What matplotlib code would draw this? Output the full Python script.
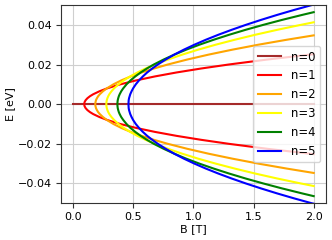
import matplotlib
matplotlib.use("Agg")
import matplotlib.pyplot as plt

# Upper-branch points (B [T], E [eV]); lower branch is the mirror image
n0_B = [0.0, 2.0]
n0_E = [0.0, 0.0]

n1_B = [0.092, 0.095, 0.104, 0.119, 0.140, 0.167, 0.219, 0.284, 0.392, 0.525, 0.681,
        0.861, 1.066, 1.294, 1.613, 1.970, 2.0]
n1_E = [0.0, 0.001, 0.002, 0.003, 0.004, 0.005, 0.0065, 0.008, 0.01, 0.012, 0.014,
        0.016, 0.018, 0.02, 0.0225, 0.025, 0.0252]

n2_B = [0.184, 0.186, 0.190, 0.198, 0.208, 0.222, 0.248, 0.281, 0.335, 0.401, 0.480,
        0.570, 0.673, 0.787, 0.948, 1.127, 1.325, 1.541, 1.777, 2.0]
n2_E = [0.0, 0.001, 0.002, 0.003, 0.004, 0.005, 0.0065, 0.008, 0.01, 0.012, 0.014,
        0.016, 0.018, 0.02, 0.0225, 0.025, 0.0275, 0.03, 0.0325, 0.0347]

n3_B = [0.276, 0.277, 0.280, 0.285, 0.292, 0.301, 0.319, 0.341, 0.377, 0.422, 0.474,
        0.535, 0.603, 0.680, 0.788, 0.908, 1.040, 1.186, 1.344, 1.514, 1.697, 1.893, 2.0]
n3_E = [0.0, 0.001, 0.002, 0.003, 0.004, 0.005, 0.0065, 0.008, 0.01, 0.012, 0.014,
        0.016, 0.018, 0.02, 0.0225, 0.025, 0.0275, 0.03, 0.0325, 0.035, 0.0375, 0.04, 0.0413]

n4_B = [0.368, 0.369, 0.371, 0.375, 0.380, 0.387, 0.400, 0.417, 0.444, 0.477, 0.517,
        0.562, 0.614, 0.671, 0.752, 0.842, 0.941, 1.050, 1.169, 1.297, 1.434, 1.581,
        1.737, 1.903, 2.0]
n4_E = [0.0, 0.001, 0.002, 0.003, 0.004, 0.005, 0.0065, 0.008, 0.01, 0.012, 0.014,
        0.016, 0.018, 0.02, 0.0225, 0.025, 0.0275, 0.03, 0.0325, 0.035, 0.0375, 0.04,
        0.0425, 0.045, 0.0464]

n5_B = [0.460, 0.461, 0.462, 0.465, 0.470, 0.475, 0.486, 0.499, 0.521, 0.548, 0.580,
        0.616, 0.658, 0.704, 0.769, 0.841, 0.921, 1.009, 1.104, 1.207, 1.318, 1.436,
        1.562, 1.695, 1.836, 1.985, 2.0]
n5_E = [0.0, 0.001, 0.002, 0.003, 0.004, 0.005, 0.0065, 0.008, 0.01, 0.012, 0.014,
        0.016, 0.018, 0.02, 0.0225, 0.025, 0.0275, 0.03, 0.0325, 0.035, 0.0375, 0.04,
        0.0425, 0.045, 0.0475, 0.05, 0.0502]

labels = ["n=0", "n=1", "n=2", "n=3", "n=4", "n=5"]
colors = ["brown", "red", "orange", "yellow", "green", "blue"]

fs = 8
plt.rcParams["font.family"] = ["DejaVu Sans"]
fig = plt.figure(figsize=(3.32, 2.40), dpi=100)
ax = fig.add_axes([0.184, 0.153, 0.797, 0.826])

ax.plot(n0_B, n0_E, color=colors[0], lw=1.5, label=labels[0])
series = [(n1_B, n1_E), (n2_B, n2_E), (n3_B, n3_E), (n4_B, n4_E), (n5_B, n5_E)]
for (bs, es), lab, col in zip(series, labels[1:], colors[1:]):
    B_full = bs[::-1] + bs[1:]
    E_full = [-e for e in es[::-1]] + es[1:]
    ax.plot(B_full, E_full, color=col, lw=1.5, label=lab)

ax.set_xlim(-0.1, 2.1)
ax.set_ylim(-0.05, 0.05)
ax.set_xticks([0.0, 0.5, 1.0, 1.5, 2.0])
ax.set_yticks([-0.04, -0.02, 0.0, 0.02, 0.04])
ax.grid(True, color="#cfcfcf", lw=0.8)
for s in ax.spines.values():
    s.set_color("#333333")
ax.tick_params(labelsize=fs, length=3.5, width=0.8, color="#333333", pad=3)
ax.set_xlabel("B [T]", fontsize=fs, labelpad=1.5)
ax.set_ylabel("E [eV]", fontsize=fs, labelpad=2)
ax.legend(loc="center right", fontsize=8.4)

fig.savefig("out.png", dpi=100)
